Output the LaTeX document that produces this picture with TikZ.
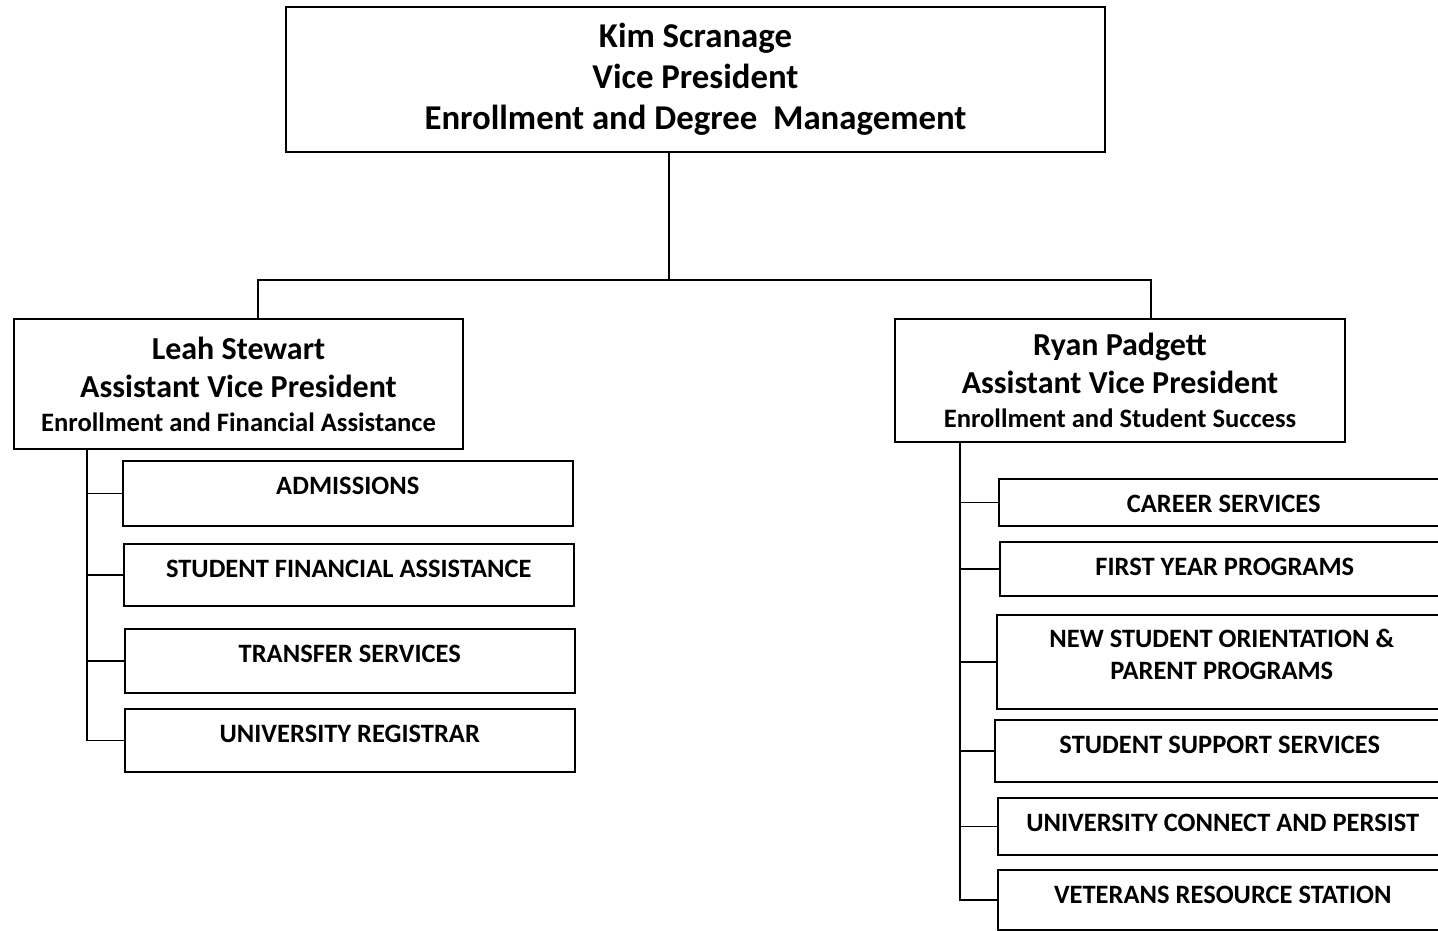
\documentclass[tikz,border=0pt]{standalone}
\usepackage{fontspec}
\setmainfont{Carlito}
\usepackage{tikz}

\begin{document}
\begin{tikzpicture}[x=1pt,y=-1pt,line width=1.5pt,
	vpbox/.style={draw,align=center,inner sep=0pt,font=\bfseries\fontsize{34.8}{41}\selectfont},
	avpbox/.style={draw,align=center,inner sep=0pt,minimum width=450pt,font=\bfseries\fontsize{32}{38}\selectfont},
	unitbox/.style={draw,anchor=north west,align=center,inner sep=0pt,minimum width=450pt,text height=34pt,font=\bfseries\fontsize{26.5}{32}\selectfont}]
	\useasboundingbox (0,0) rectangle (1438,930);
	% vice president
	\node[vpbox,minimum width=819pt,minimum height=145pt] (vp) at (695.5,79.5) {Kim Scranage\\Vice President\\Enrollment and Degree~~Management};
	% assistant vice presidents
	\node[avpbox,minimum width=449pt,minimum height=130pt] (lavp) at (238.5,384) {Leah Stewart\\Assistant Vice President\\[-4pt]{\fontsize{26.6}{30}\selectfont Enrollment and Financial Assistance}};
	\node[avpbox,minimum height=123pt] (ravp) at (1120,380.5) {Ryan Padgett\\Assistant Vice President\\[-4pt]{\fontsize{26.6}{30}\selectfont Enrollment and Student Success}};
	% left units
	\node[unitbox,text depth=31pt] (adm) at (122,460) {ADMISSIONS};
	\node[unitbox,text depth=28pt] (sfa) at (123,543) {STUDENT FINANCIAL ASSISTANCE};
	\node[unitbox,text depth=30pt] (trs) at (124,628) {TRANSFER SERVICES};
	\node[unitbox,text depth=29pt] (reg) at (124,708) {UNIVERSITY REGISTRAR};
	% right units
	\node[unitbox,text depth=13pt] (car) at (998,478) {CAREER SERVICES};
	\node[unitbox,text depth=20pt] (fyp) at (999,541) {FIRST YEAR PROGRAMS};
	\node[unitbox,text height=64.5pt,text depth=29.5pt] (nso) at (996,614) {NEW STUDENT ORIENTATION \&\\PARENT PROGRAMS};
	\node[unitbox,text depth=28pt] (sss) at (994,719) {STUDENT SUPPORT SERVICES};
	\node[unitbox,text depth=23pt] (ucp) at (997,797) {UNIVERSITY CONNECT AND PERSIST};
	\node[unitbox,text depth=26pt] (vrs) at (997,869) {VETERANS RESOURCE STATION};
	% connectors
	\coordinate (hub) at (669,280);
	\coordinate (lj) at (258,280);
	\coordinate (rj) at (1151,280);
	\draw (vp.south -| hub) -- (hub);
	\draw (lavp.north -| lj) |- (rj) -- (rj |- ravp.north);
	\coordinate (lspine) at (87,449);
	\coordinate (rspine) at (960,442);
	\draw (lspine) |- (reg.west);
	\foreach \n in {adm,sfa,trs}
		\draw (\n.west) -- (\n.west -| lspine);
	\draw (rspine) |- (vrs.west);
	\foreach \n in {car,fyp,nso,sss,ucp}
		\draw (\n.west) -- (\n.west -| rspine);
\end{tikzpicture}
\end{document}
